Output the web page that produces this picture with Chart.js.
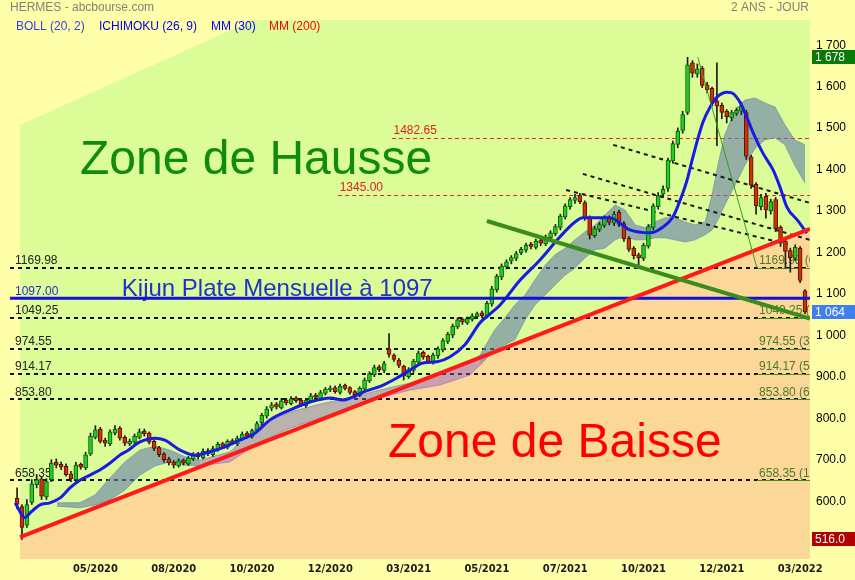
<!DOCTYPE html>
<html><head><meta charset="utf-8">
<script src="https://cdn.jsdelivr.net/npm/chart.js@4.4.1/dist/chart.umd.min.js"></script>
<style>
html,body{margin:0;padding:0;background:#ffffaa;}
#wrap{width:855px;height:580px;}
</style></head><body>
<div id="wrap"><canvas id="chart" width="855" height="580"></canvas></div>
<script>
// x axis: one bar ~ 3 trading days, label every 16 bars
const tickPos = [16, 32, 48, 64, 80, 96, 112, 128, 144, 160];
const tickLabels = ['05/2020', '08/2020', '10/2020', '12/2020', '03/2021', '05/2021', '07/2021', '10/2021', '12/2021', '03/2022'];
const priceTicks = [600, 700, 800, 900, 1000, 1100, 1200, 1300, 1400, 1500, 1600, 1700];

const opens = [615,595,550,605,648,662,618,660,702,697, 692,674,660,697,688,722,762,782,755,746,
  772,784,762,746,750,762,777,772,752,737, 722,710,702,693,707,698,710,722,713,730,
  720,733,747,738,754,746,758,772,763,780, 797,813,832,842,833,852,843,857,852,838,
  850,864,856,868,876,882,870,887,882,872, 863,878,898,913,932,923,975,960,948,933,
  908,923,943,967,957,943,958,973,993,1008, 1028,1047,1038,1046,1053,1062,1053,1083,1118,1148,
  1173,1187,1193,1207,1213,1228,1220,1238,1228,1243, 1253,1268,1293,1318,1333,1345,1328,1292,1248,1263,
  1273,1292,1278,1305,1277,1242,1218,1202,1193,1223, 1268,1318,1348,1362,1428,1468,1502,1545,1665,1638,
  1652,1612,1603,1573,1562,1548,1532,1543,1548,1545, 1438,1372,1318,1343,1308,1335,1268,1235,1212,1193,
  1218,1115];
const highs = [640,600,612,660,672,668,662,708,710,702, 698,680,702,700,726,772,790,786,760,780,
  790,788,766,758,770,782,782,775,756,740, 725,714,706,710,710,716,725,726,734,735,
  740,750,750,756,758,765,775,776,782,800, 820,836,846,846,856,856,860,860,855,856,
  868,868,875,882,886,886,890,890,884,875, 884,905,920,936,936,945,1012,963,952,936,
  930,950,970,970,960,965,980,1000,1015,1035, 1050,1050,1052,1060,1064,1066,1090,1126,1155,1180,
  1190,1200,1210,1220,1230,1232,1240,1242,1250,1260, 1275,1300,1325,1340,1348,1350,1332,1296,1270,1280,
  1296,1296,1306,1310,1282,1246,1222,1206,1230,1275, 1325,1352,1368,1435,1476,1508,1548,1678,1670,1662,
  1656,1618,1606,1665,1568,1552,1550,1556,1570,1550, 1442,1376,1348,1350,1336,1340,1272,1240,1218,1226,
  1222,1118];
const lows = [590,516,545,600,640,612,612,655,688,684, 668,655,656,685,684,718,758,748,740,742,
  768,755,742,742,746,758,765,746,730,715, 702,695,688,690,695,694,706,710,710,718,
  716,728,736,734,744,742,755,760,760,776, 792,808,826,830,830,840,840,846,836,834,
  846,852,852,864,872,868,866,876,866,858, 860,874,894,908,920,918,955,945,930,900,
  904,918,938,950,940,938,952,968,988,1002, 1024,1034,1034,1042,1048,1050,1050,1078,1112,1142,
  1168,1180,1188,1202,1208,1216,1216,1224,1224,1238, 1248,1262,1288,1312,1326,1325,1285,1240,1244,1258,
  1268,1274,1272,1270,1234,1210,1192,1178,1188,1218, 1262,1312,1340,1355,1422,1460,1495,1540,1630,1630,
  1605,1592,1560,1465,1530,1520,1525,1538,1540,1432, 1362,1300,1310,1290,1300,1258,1222,1170,1160,1188,
  1135,1060];
const closes = [600,545,600,650,660,620,655,700,695,690, 672,662,695,690,720,765,780,752,748,775,
  782,760,748,752,765,775,770,750,735,720, 708,700,695,705,700,712,720,715,728,722,
  735,745,740,752,748,760,770,765,778,795, 815,830,840,835,850,845,855,850,840,852,
  862,858,870,878,880,872,885,880,870,865, 880,900,915,930,925,940,962,950,935,910,
  925,945,965,955,945,960,975,995,1010,1030, 1045,1040,1048,1055,1060,1055,1085,1120,1150,1175,
  1185,1195,1205,1215,1225,1222,1235,1230,1245,1255, 1270,1295,1320,1335,1340,1330,1290,1250,1265,1275,
  1290,1280,1300,1275,1240,1215,1200,1195,1225,1270, 1320,1345,1360,1430,1470,1500,1540,1660,1640,1650,
  1610,1600,1570,1560,1545,1535,1545,1550,1560,1440, 1370,1320,1340,1310,1330,1265,1230,1210,1195,1220,
  1140,1064];

// MM(30)
const ma30X = [-0.4,1.6,2.6,4.7,6.7,8.8,10.8,12.9,14.9,16.9,19.0,21.0,22.7,25.1,28.2,30.2,33.3,36.3,39.4,42.5,
  45.5,48.6,51.7,55.8,59.9,64.0,66.6,70.7,74.8,77.6,80.3,82.9,85.8,88.5,91.5,94.6,96.6,98.7,102.8,106.8,
  110.9,114.0,115.6,121.1,125.2,129.3,132.0,134.0,135.5,136.9,138.1,140.1,141.6,143.0,145.1,146.1,147.7,149.1,150.4,152.4,
  154.5,155.9,157.3,159.4,161.4];
const ma30Y = [604,568,579,599,604,616,640,659,671,683,700,719,731,751,760,755,731,719,727,739,
  755,772,804,828,847,857,852,871,888,905,924,941,944,956,985,1038,1059,1081,1141,1189,
  1245,1281,1291,1291,1262,1255,1269,1293,1334,1382,1438,1520,1558,1582,1594,1592,1570,1534,1496,1447,
  1406,1365,1317,1286,1254];

// Ichimoku cloud
const cloud1X = [8.15,12.85,15.92,18.98,22.05,25.11,28.18,31.24,34.31,37.37];
const cloud1Top = [604,604,623,664,703,731,741,731,715,707];
const cloud1Bot = [596,592,599,611,635,671,693,703,695,693];
const cloudPX = [37.4,43.5,49.6,55.8,61.9,68.0,74.1,80.3,86.4,92.5,94.6];
const cloudPTop = [707,727,792,823,842,857,876,893,919,944,960];
const cloudPBot = [693,703,751,784,809,833,857,876,888,912,936];
const cloud2X = [94.6,97.6,99.7,101.7,103.8,105.8,107.9,109.9,112.0,114.0,116.0,118.1,120.1,122.2,124.2,126.3,128.3,130.3,132.4,134.4,
  136.5,138.5,140.6,142.0,143.2,144.6,146.7,148.7,150.8,152.8,154.9,156.9,158.9,161.0];
const cloud2Top = [960,1021,1050,1081,1105,1141,1177,1202,1218,1238,1257,1274,1298,1322,1310,1274,1267,1281,1291,1291,
  1281,1274,1281,1346,1418,1491,1551,1575,1580,1568,1558,1515,1479,1467];
const cloud2Bot = [936,973,985,997,1045,1081,1105,1129,1153,1170,1194,1214,1218,1238,1247,1238,1238,1243,1243,1238,
  1233,1238,1250,1262,1286,1322,1370,1418,1459,1479,1484,1467,1418,1375];

// drawn lines
const xMin = -1.45, xMax = 162.02, yMin = 468.6, yMax = 1768;
const redTrendX = [0.6, 162.0], redTrendY = [521.6, 1264.2];
const greenTrendX = [96.0, 162.0], greenTrendY = [1283.4, 1048];
const fibLineX = [139.1, 151.2], fibLineY = [1678, 1169.98];
const channelX = [[121.8, 162.0], [115.6, 162.0], [112.2, 157.9]];
const channelY = [[1467, 1327], [1397, 1238], [1358, 1226]];
const kijun = 1097;
const blackLevels = [1169.98, 1049.25, 974.55, 914.17, 853.80, 658.35];
const fibPct = ['0.0%', '23.6%', '38.2%', '50.0%', '61.8%', '100.0%'];
const redLevels = [1482.65, 1345.00];
const redLevelStart = [76.6, 65.6];
const zoneHausseX = [0.6, 48.2, 162.0, 162.0, 0.6], zoneHausseY = [1515, 1768, 1768, 1264.2, 521.6];
const zoneBaisseX = [0.6, 162.0, 162.0, 0.6], zoneBaisseY = [521.6, 1264.2, 468.6, 468.6];
const lastHigh = 1678, lastClose = 1064, periodLow = 516;

const FONT = "'Liberation Sans', Arial, sans-serif";
const pts = (xs, ys) => xs.map((x, i) => ({x: x, y: ys[i]}));
const idx = closes.map((c, i) => i);

function fmtPrice(v) {
  if (v >= 1000) return Math.floor(v / 1000) + ' ' + String(Math.round(v % 1000)).padStart(3, '0');
  return v.toFixed(1);
}

const drawings = {
  id: 'drawings',
  beforeDraw(chart) {
    const c = chart.ctx;
    c.save();
    c.fillStyle = '#ffffaa';
    c.fillRect(0, 0, chart.width, chart.height);
    c.restore();
  },
  beforeDatasetsDraw(chart) {
    const c = chart.ctx, xs = chart.scales.x, ys = chart.scales.y, a = chart.chartArea;
    const X = v => xs.getPixelForValue(v), Y = v => ys.getPixelForValue(v);
    c.save();
    c.beginPath(); c.rect(a.left, a.top, a.right - a.left, a.bottom - a.top); c.clip();
    // zones
    function poly(px, py, col) {
      c.beginPath();
      px.forEach((x, i) => i ? c.lineTo(X(x), Y(py[i])) : c.moveTo(X(x), Y(py[i])));
      c.closePath(); c.fillStyle = col; c.fill();
    }
    poly(zoneHausseX, zoneHausseY, '#dcfc98');
    poly(zoneBaisseX, zoneBaisseY, '#fcd898');
    // horizontal levels
    c.lineWidth = 2; c.strokeStyle = '#111'; c.setLineDash([4, 4]);
    blackLevels.forEach(v => {
      const y = Math.round(Y(v));
      c.beginPath(); c.moveTo(a.left, y); c.lineTo(a.right, y); c.stroke();
    });
    c.lineWidth = 1; c.strokeStyle = '#ee2222'; c.setLineDash([4, 3]);
    redLevels.forEach((v, i) => {
      const y = Math.round(Y(v)) + 0.5;
      c.beginPath(); c.moveTo(X(redLevelStart[i]), y); c.lineTo(a.right, y); c.stroke();
    });
    c.setLineDash([]);
    // fib short lines + labels
    c.strokeStyle = '#4a8a2a'; c.lineWidth = 1;
    c.font = '12px ' + FONT; c.textBaseline = 'middle';
    blackLevels.forEach((v, i) => {
      const y = Math.round(Y(v)) + 0.5;
      c.beginPath(); c.moveTo(X(fibLineX[1]), y); c.lineTo(a.right, y); c.stroke();
      c.fillStyle = '#4a7a2a';
      c.fillText(v.toFixed(2) + ' (' + fibPct[i] + ')', X(fibLineX[1]) + 2, Y(v) - 7);
    });
    // left labels
    c.fillStyle = '#222';
    blackLevels.forEach(v => c.fillText(v.toFixed(2), a.left + 5, Y(v) - 7));
    c.fillStyle = '#2a2acc';
    c.fillText(kijun.toFixed(2), a.left + 5, Y(kijun) - 7);
    c.fillStyle = '#e02020';
    redLevels.forEach((v, i) => c.fillText(v.toFixed(2), X(redLevelStart[i]) + 1.5, Y(v) - 7.5));
    // big texts
    c.textBaseline = 'alphabetic';
    c.font = '48px ' + FONT;
    c.fillStyle = '#108a10';
    c.fillText('Zone de Hausse', X(12.85), Y(1397));
    c.fillStyle = '#ff0000';
    c.fillText('Zone de Baisse', X(75.8), Y(714));
    c.font = '24px ' + FONT;
    c.fillStyle = '#1e32c8';
    c.fillText('Kijun Plate Mensuelle à 1097', X(21.4), Y(1102));
    c.restore();
  },
  afterDraw(chart) {
    const c = chart.ctx, ys = chart.scales.y, a = chart.chartArea;
    c.save();
    c.font = '12px ' + FONT; c.textBaseline = 'middle';
    c.fillStyle = '#808080';
    c.fillText('HERMES - abcbourse.com', 10, 8);
    c.textAlign = 'right';
    c.fillText('2 ANS - JOUR', 809, 8);
    c.textAlign = 'left';
    c.fillStyle = '#3a3ae0'; c.fillText('BOLL (20, 2)', 16, 27);
    c.fillStyle = '#0000e8'; c.fillText('ICHIMOKU (26, 9)', 99, 27);
    c.fillStyle = '#0000ff'; c.fillText('MM (30)', 211, 27);
    c.fillStyle = '#ff0000'; c.fillText('MM (200)', 269, 27);
    // price boxes on the axis
    [[lastHigh, '#087a08'], [lastClose, '#3d7ff0'], [periodLow, '#b00000']].forEach(([v, col]) => {
      const y = ys.getPixelForValue(v);
      c.fillStyle = col;
      c.fillRect(a.right + 2, Math.round(y) - 7, 45, 14);
      c.fillStyle = '#fff';
      c.fillText(fmtPrice(v), a.right + 5, y + 0.5);
    });
    c.restore();
  }
};

const line = (label, data, color, width, order, extra) => Object.assign({
  type: 'line', label, data, borderColor: color, borderWidth: width,
  pointRadius: 0, fill: false, order, tension: 0
}, extra || {});

new Chart(document.getElementById('chart'), {
  type: 'bar',
  data: {
    datasets: [
      line('cloud1Top', pts(cloud1X, cloud1Top), 'rgba(110,140,170,0.7)', 1, 30),
      line('cloud1Bot', pts(cloud1X, cloud1Bot), 'rgba(110,140,170,0.7)', 1, 30, {fill: '-1', backgroundColor: 'rgba(100,125,172,0.6)'}),
      line('cloudPTop', pts(cloudPX, cloudPTop), 'rgba(150,120,190,0.7)', 1, 30),
      line('cloudPBot', pts(cloudPX, cloudPBot), 'rgba(150,120,190,0.7)', 1, 30, {fill: '-1', backgroundColor: 'rgba(140,90,200,0.45)'}),
      line('cloud2Top', pts(cloud2X, cloud2Top), 'rgba(110,140,170,0.7)', 1, 30),
      line('cloud2Bot', pts(cloud2X, cloud2Bot), 'rgba(110,140,170,0.7)', 1, 30, {fill: '-1', backgroundColor: 'rgba(100,125,172,0.6)'}),
      ...channelX.map((cx, k) => line('channel' + k, pts(cx, channelY[k]), '#1a1a1a', 2, 20, {borderDash: [4, 4]})),
      {
        type: 'bar', label: 'wicks', order: 9, grouped: false,
        data: idx.map(i => ({x: i, y: [lows[i], highs[i]]})),
        backgroundColor: '#1a1a1a', maxBarThickness: 1, barPercentage: 1, categoryPercentage: 1
      },
      {
        type: 'bar', label: 'bodies', order: 8, grouped: false,
        data: idx.map(i => ({x: i, y: [opens[i], closes[i]]})),
        backgroundColor: ctx => closes[ctx.dataIndex] >= opens[ctx.dataIndex] ? '#22cc22' : '#cc3300',
        borderColor: ctx => closes[ctx.dataIndex] >= opens[ctx.dataIndex] ? '#0b5e0b' : '#5a1000',
        borderWidth: 1, borderSkipped: false, minBarLength: 1,
        maxBarThickness: 4, barPercentage: 1, categoryPercentage: 1
      },
      line('MM30', pts(ma30X, ma30Y), '#1a1ae6', 3, 4, {cubicInterpolationMode: 'monotone'}),
      line('kijun', pts([xMin, xMax], [kijun, kijun]), '#1010d8', 3, 3),
      line('redTrend', pts(redTrendX, redTrendY), '#ff1a1a', 4, 2),
      line('greenTrend', pts(greenTrendX, greenTrendY), '#3a8c1c', 4, 1),
      line('fibLine', pts(fibLineX, fibLineY), '#3a9c1c', 1, 1)
    ]
  },
  options: {
    responsive: false,
    animation: false,
    devicePixelRatio: 1,
    layout: {padding: {top: 20, left: 10, right: 0, bottom: 0}},
    plugins: {legend: {display: false}, tooltip: {enabled: false}},
    scales: {
      x: {
        type: 'linear', min: xMin, max: xMax, offset: false,
        grid: {display: false, drawTicks: false, offset: false}, border: {display: false},
        afterBuildTicks: s => { s.ticks = tickPos.map(v => ({value: v})); },
        afterFit: s => { s.height = 21; },
        ticks: {
          autoSkip: false, maxRotation: 0, padding: 4, color: '#1a1a1a',
          font: {family: "'Liberation Sans Narrow', 'DejaVu Sans Condensed', sans-serif", size: 11, weight: 'bold'},
          callback: v => tickLabels[tickPos.indexOf(v)]
        }
      },
      y: {
        type: 'linear', position: 'right', min: yMin, max: yMax,
        grid: {display: false, drawTicks: false}, border: {display: false},
        afterBuildTicks: s => { s.ticks = priceTicks.map(v => ({value: v})); },
        afterFit: s => { s.width = 45; },
        ticks: {
          padding: 6, labelOffset: -3, color: '#000',
          font: {family: FONT, size: 12},
          callback: v => fmtPrice(v)
        }
      }
    }
  },
  plugins: [drawings]
});
</script>
</body></html>
